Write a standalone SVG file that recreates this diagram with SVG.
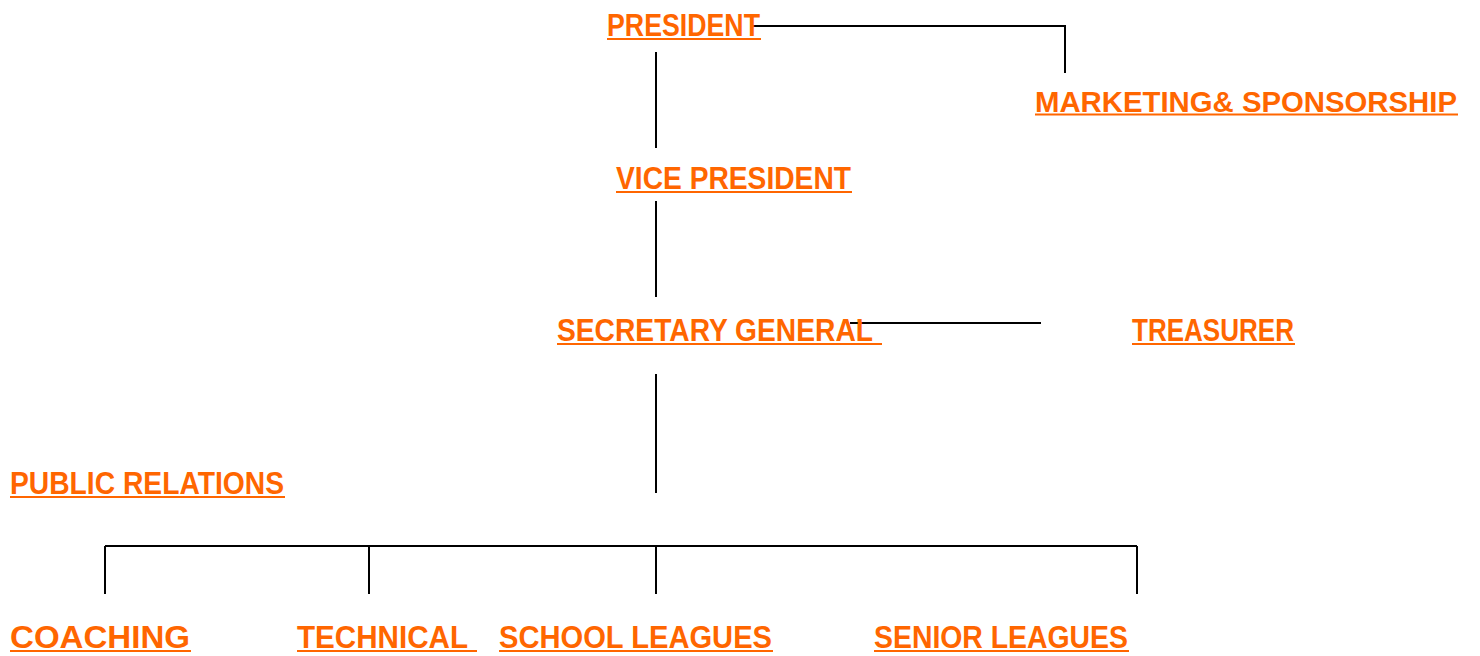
<svg xmlns="http://www.w3.org/2000/svg" width="1480" height="656" viewBox="0 0 1480 656">
<style>
.lbl{font-family:"Liberation Sans",Arial,sans-serif;font-weight:bold;font-size:32px;fill:#FF6600}
.sm{font-size:30px}
.ul{stroke:#FF6600;stroke-width:2}
.c{stroke:#000;stroke-width:2;fill:none}
</style>
<rect width="1480" height="656" fill="#fff"/>
<g id="connectors">
<polyline class="c" points="752,26 1065,26 1065,73"/>
<line class="c" x1="656" y1="52" x2="656" y2="148"/>
<line class="c" x1="656" y1="201" x2="656" y2="297"/>
<line class="c" x1="850" y1="323" x2="1041" y2="323"/>
<line class="c" x1="656" y1="374" x2="656" y2="493"/>
<line class="c" x1="105" y1="546" x2="1137" y2="546"/>
<line class="c" x1="105" y1="546" x2="105" y2="594"/>
<line class="c" x1="369" y1="546" x2="369" y2="594"/>
<line class="c" x1="656" y1="546" x2="656" y2="594"/>
<line class="c" x1="1137" y1="546" x2="1137" y2="594"/>
</g>
<g id="president"><text class="lbl" x="607" y="36" textLength="153" lengthAdjust="spacingAndGlyphs">PRESIDENT</text><line class="ul" x1="607" y1="39" x2="761" y2="39"/></g>
<g id="marketing"><text class="lbl sm" x="1035" y="112" textLength="422" lengthAdjust="spacingAndGlyphs">MARKETING&amp; SPONSORSHIP</text><line class="ul" x1="1035" y1="114.5" x2="1458" y2="114.5"/></g>
<g id="vice-president"><text class="lbl" x="616" y="189" textLength="235" lengthAdjust="spacingAndGlyphs">VICE PRESIDENT</text><line class="ul" x1="616" y1="192" x2="852" y2="192"/></g>
<g id="secretary-general"><text class="lbl" x="557" y="341" textLength="316" lengthAdjust="spacingAndGlyphs">SECRETARY GENERAL</text><line class="ul" x1="557" y1="344" x2="882" y2="344"/></g>
<g id="treasurer"><text class="lbl" x="1132" y="341" textLength="162" lengthAdjust="spacingAndGlyphs">TREASURER</text><line class="ul" x1="1132" y1="344" x2="1295" y2="344"/></g>
<g id="public-relations"><text class="lbl" x="10" y="494" textLength="274" lengthAdjust="spacingAndGlyphs">PUBLIC RELATIONS</text><line class="ul" x1="10" y1="497" x2="285" y2="497"/></g>
<g id="coaching"><text class="lbl" x="10" y="648" textLength="180" lengthAdjust="spacingAndGlyphs">COACHING</text><line class="ul" x1="10" y1="651" x2="191" y2="651"/></g>
<g id="technical"><text class="lbl" x="297" y="648" textLength="171" lengthAdjust="spacingAndGlyphs">TECHNICAL</text><line class="ul" x1="297" y1="651" x2="477" y2="651"/></g>
<g id="school-leagues"><text class="lbl" x="499" y="648" textLength="273" lengthAdjust="spacingAndGlyphs">SCHOOL LEAGUES</text><line class="ul" x1="499" y1="651" x2="773" y2="651"/></g>
<g id="senior-leagues"><text class="lbl" x="874" y="648" textLength="254" lengthAdjust="spacingAndGlyphs">SENIOR LEAGUES</text><line class="ul" x1="874" y1="651" x2="1129" y2="651"/></g>
</svg>
